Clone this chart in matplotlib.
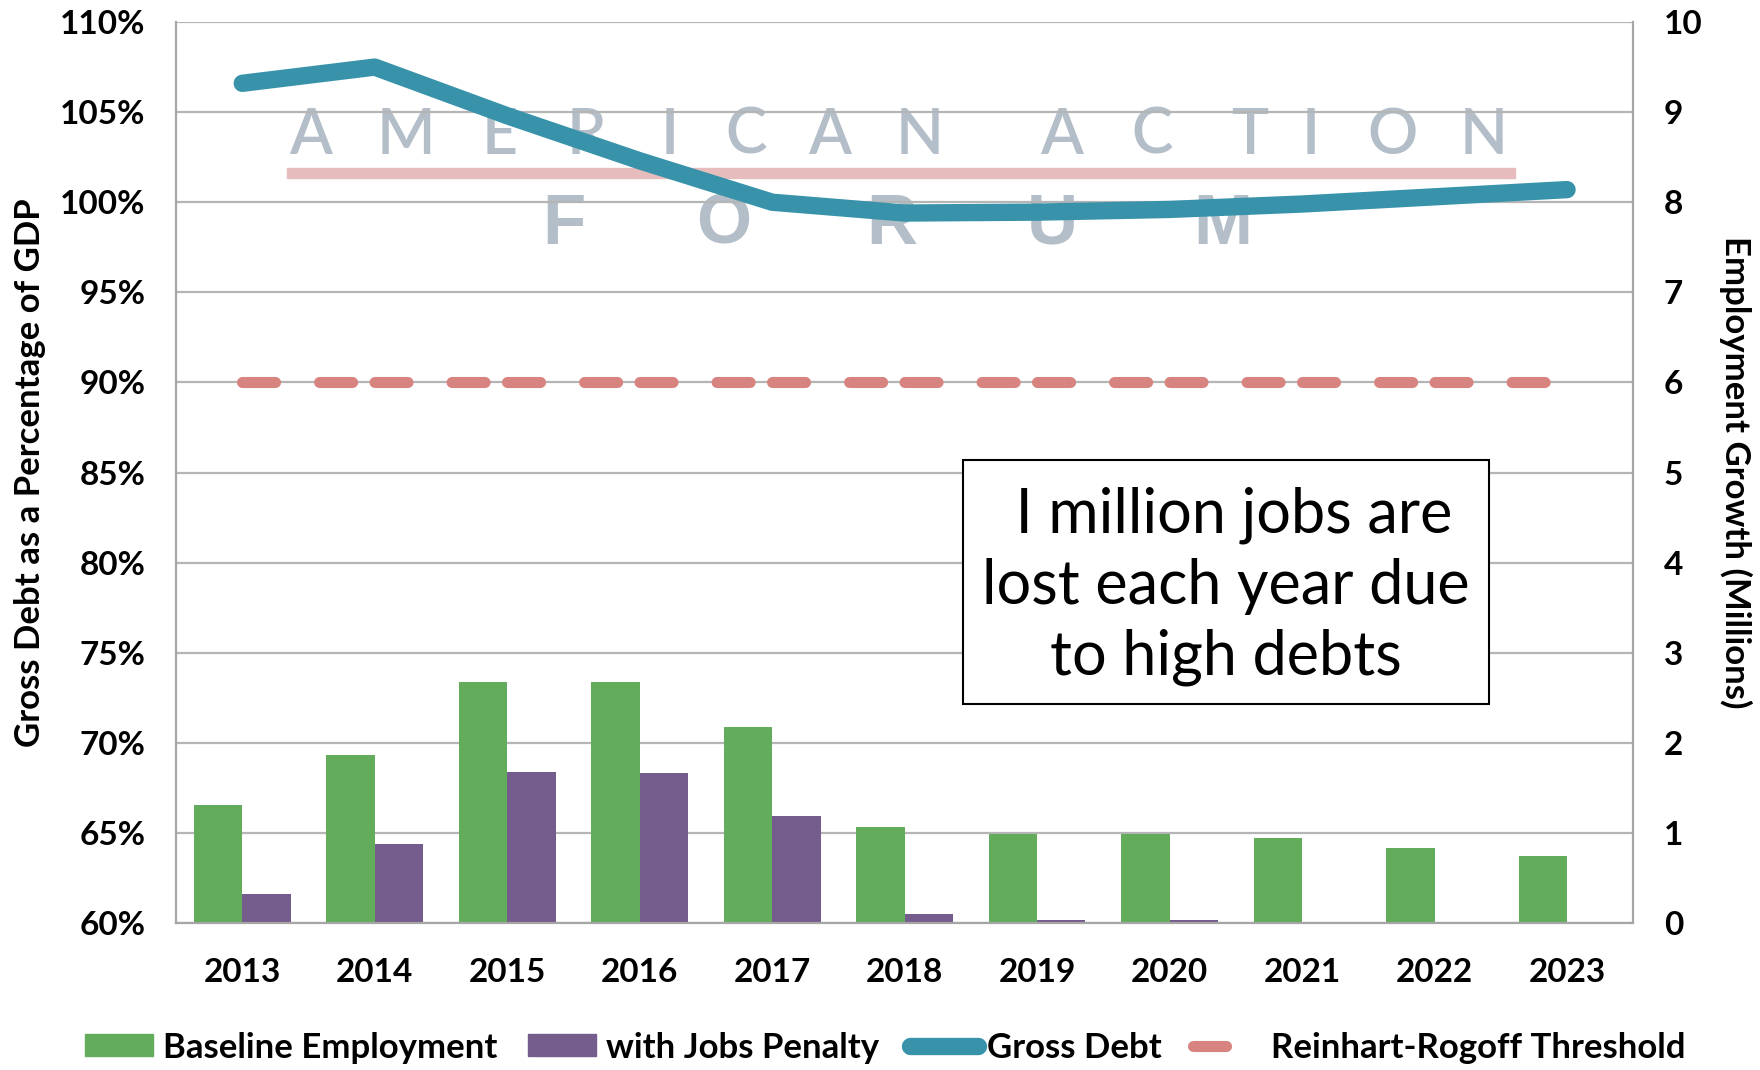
import numpy as np
import matplotlib
matplotlib.use('Agg')
import matplotlib.pyplot as plt
from matplotlib.patches import Patch, Rectangle
from matplotlib.lines import Line2D

plt.rcParams['font.family'] = ['Lato', 'DejaVu Sans']
plt.rcParams['lines.scale_dashes'] = False

years = ['2013', '2014', '2015', '2016', '2017', '2018', '2019', '2020', '2021', '2022', '2023']
baseline_emp = [1.31, 1.87, 2.68, 2.67, 2.18, 1.07, 0.99, 0.99, 0.945, 0.835, 0.745]
penalty_emp = [0.32, 0.875, 1.68, 1.67, 1.19, 0.096, 0.03, 0.03, 0.01, 0.01, 0.01]
gross_debt = [106.6, 107.5, 104.8, 102.3, 100.0, 99.4, 99.45, 99.6, 99.9, 100.3, 100.7]
threshold = [90] * len(years)

green = '#62AC5C'
purple = '#745C8C'
blue = '#3893AA'
red = '#D78380'
grid_c = '#B5B5B5'

fig = plt.figure(figsize=(17.6, 10.7), dpi=100, facecolor='white')
ax = fig.add_axes([0.1, 0.1374, 0.828, 0.842])
ax2 = ax.twinx()
ax.set_zorder(2)
ax2.set_zorder(1)
ax.patch.set_visible(False)
ax2.patch.set_visible(False)

x = np.arange(len(years))
w = 0.365

# bars on the right axis
ax2.bar(x - w / 2, baseline_emp, w, color=green, zorder=2)
ax2.bar(x + w / 2, penalty_emp, w, color=purple, zorder=2)
ax2.set_ylim(0, 10)
ax2.set_yticks(range(0, 11))
ax2.set_axisbelow(True)
ax2.yaxis.grid(True, color=grid_c, lw=1.6)

# debt + threshold on the left axis
ax.plot(x, threshold, color=red, lw=8, dash_capstyle='round',
        linestyle=(0, (23.8, 31.7, 23.8, 16.1)), zorder=3)
ax.plot(x, gross_debt, color=blue, lw=12.5, solid_capstyle='round',
        solid_joinstyle='round', zorder=4)
ax.set_ylim(60, 110)
ax.set_yticks(range(60, 111, 5))
ax.set_yticklabels([f'{v}%' for v in range(60, 111, 5)])
ax.set_xlim(-0.5, 10.5)
ax.set_xticks(x)
ax.set_xticklabels(years)

ts = 24
ax.tick_params(axis='both', length=0, labelsize=ts)
ax.tick_params(axis='y', pad=22)
ax.tick_params(axis='x', pad=25)
ax2.tick_params(axis='y', length=0, labelsize=ts, pad=22)
for lab in ax.get_xticklabels() + ax.get_yticklabels() + ax2.get_yticklabels():
    lab.set_fontweight('bold')

ax.set_ylabel('Gross Debt as a Percentage of GDP', labelpad=10, fontsize=25, fontweight='bold')
ax2.set_ylabel('Employment Growth (Millions)', rotation=270, labelpad=36,
               fontsize=25, fontweight='bold')

for s in ax.spines.values():
    s.set_visible(False)
for k, s in ax2.spines.items():
    s.set_color('#A6A6A6')
    s.set_linewidth(1.6)
ax2.spines['top'].set_visible(False)

# text box
ax.add_patch(Rectangle((0.540, 0.243), 0.361, 0.271, transform=ax.transAxes,
                       fc='white', ec='black', lw=1.5, zorder=5))
ax.text(0.7205, 0.374, ' I million jobs are\nlost each year due\nto high debts',
        transform=ax.transAxes, ha='center', va='center', fontsize=44,
        linespacing=1.3, zorder=6)

# watermark
W, H = 1760.0, 1070.0
wm_c = '#B3BEC9'
top_letters = 'AMERICANACTION'
top_x = [311, 406, 500, 586, 670, 746, 830, 920, 1062, 1152, 1250, 1311, 1392, 1484]
for ch, px in zip(top_letters, top_x):
    fig.text(px / W, 1 - 154 / H, ch, ha='center', va='baseline', fontsize=45,
             color=wm_c, fontweight='semibold', zorder=0, family='Lato')
bot_letters = 'FORUM'
bot_x = [564, 724, 892, 1052, 1223]
for ch, px in zip(bot_letters, bot_x):
    fig.text(px / W, 1 - 244 / H, ch, ha='center', va='baseline', fontsize=51,
             color=wm_c, fontweight='bold', zorder=0, family='Liberation Sans')
fig.patches.append(Rectangle((287 / W, 1 - 178 / H), (1515 - 287) / W, 10 / H,
                             transform=fig.transFigure, color='#E6BDBC', zorder=0))

handles = [Patch(color=green), Patch(color=purple),
           Line2D([], [], color=blue, lw=12.5, solid_capstyle='round'),
           Line2D([], [], color=red, lw=8, dash_capstyle='round',
                  linestyle=(0, (23.8, 31.7, 23.8, 16.1)))]
labels = ['Baseline Employment', 'with Jobs Penalty', 'Gross Debt', 'Reinhart-Rogoff Threshold']
leg = fig.legend(handles, labels, loc='center', bbox_to_anchor=(0.503, 0.021), ncol=4,
                 frameon=False, prop=dict(size=25, weight='bold'), handlelength=1.95,
                 handleheight=0.6, handletextpad=0.28, columnspacing=0.9)

fig.savefig('out.png', dpi=100, facecolor='white')
